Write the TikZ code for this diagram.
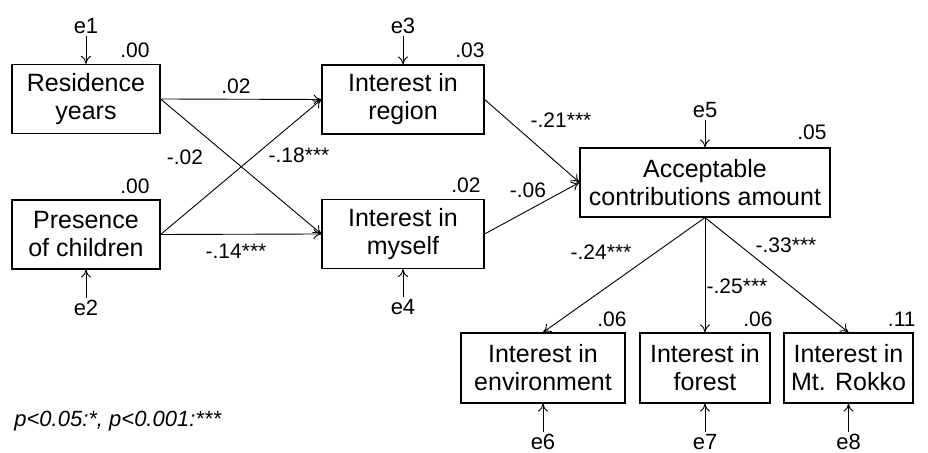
\documentclass[tikz,border=0pt]{standalone}
\usepackage{fontspec}
\setmainfont{Liberation Sans}
\usetikzlibrary{arrows.meta, positioning}

\begin{document}
\begin{tikzpicture}[x=0.5pt, y=-0.5pt, >={To[length=4pt,width=5pt]}]
        \tikzstyle{var} = [rectangle, draw, line width=0.6pt, align=center, inner sep=0pt, minimum height=34.5pt, font=\fontsize{12.5}{14}\selectfont]
        \tikzstyle{err} = [inner sep=1pt, font=\fontsize{11}{12}\selectfont]
        \tikzstyle{rsq} = [anchor=base east, inner sep=0pt, font=\fontsize{10.5}{12}\selectfont]
        \tikzstyle{coef} = [inner sep=0pt, font=\fontsize{10.5}{12}\selectfont]
        \tikzstyle{path} = [->, line width=0.45pt]
        \useasboundingbox (0,0) rectangle (928,453);

        % observed variables
        \node (residence) [var, minimum width=74pt] at (86,99) {Residence\\years};
        \node (children) [var, minimum width=74pt] at (86,234.5) {Presence\\of children};
        \node (region) [var, minimum width=81pt] at (403,99.5) {Interest in\\region};
        \node (myself) [var, minimum width=81pt] at (403,234) {Interest in\\myself};
        \node (amount) [var, minimum width=125pt] at (705,182.5) {Acceptable\\contributions amount};
        \node (environment) [var, minimum width=82pt, minimum height=35pt] at (543,368) {Interest in\\environment};
        \node (forest) [var, minimum width=65pt, minimum height=35pt] at (705,368) {Interest in\\forest};
        \node (rokko) [var, minimum width=64.5pt, minimum height=35pt] at (848.5,368) {Interest in\\Mt. Rokko};

        % error terms
        \node (e1) [err, above=14pt of residence] {e1};
        \node (e2) [err, below=14pt of children] {e2};
        \node (e3) [err, above=14pt of region] {e3};
        \node (e4) [err, below=14pt of myself] {e4};
        \node (e5) [err, above=13.5pt of amount] {e5};
        \node (e6) [err, below=14pt of environment] {e6};
        \node (e7) [err, below=14pt of forest] {e7};
        \node (e8) [err, below=14pt of rokko] {e8};
        \foreach \e/\v in {e1/residence, e2/children, e3/region, e4/myself, e5/amount, e6/environment, e7/forest, e8/rokko}
            \draw [path] (\e) -- (\v);

        % paths
        \draw [path] (residence.east) -- (region.west);
        \draw [path] (residence.east) -- (myself.west);
        \draw [path] (children.east) -- (region.west);
        \draw [path] (children.east) -- (myself.west);
        \draw [path] (region.east) -- (amount.west);
        \draw [path] (myself.east) -- (amount.west);
        \draw [path] (amount.south) -- (environment.north);
        \draw [path] (amount.south) -- (forest.north);
        \draw [path] (amount.south) -- (rokko.north);

        % path coefficients
        \node (c1) [coef] at (236,86) {.02};
        \node (c2) [coef] at (185,157) {-.02};
        \node (c3) [coef] at (299,155) {-.18***};
        \node (c4) [coef] at (236,251) {-.14***};
        \node (c5) [coef] at (561,120) {-.21***};
        \node (c6) [coef] at (528,190) {-.06};
        \node (c7) [coef] at (601,252) {-.24***};
        \node (c8) [coef] at (737,286) {-.25***};
        \node (c9) [coef] at (786,245) {-.33***};

        % squared multiple correlations
        \node (r1) [rsq] at (150,58) {.00};
        \node (r2) [rsq] at (150,194) {.00};
        \node (r3) [rsq] at (485,58) {.03};
        \node (r4) [rsq] at (481,193) {.02};
        \node (r5) [rsq] at (827,140) {.05};
        \node (r6) [rsq] at (627,327) {.06};
        \node (r7) [rsq] at (773,327) {.06};
        \node (r8) [rsq] at (916,327) {.11};

        \node (note) [anchor=base west, inner sep=0pt, font=\fontsize{11}{12}\selectfont\itshape] at (14,427) {p<0.05:*, p<0.001:***};
    \end{tikzpicture}
\end{document}
